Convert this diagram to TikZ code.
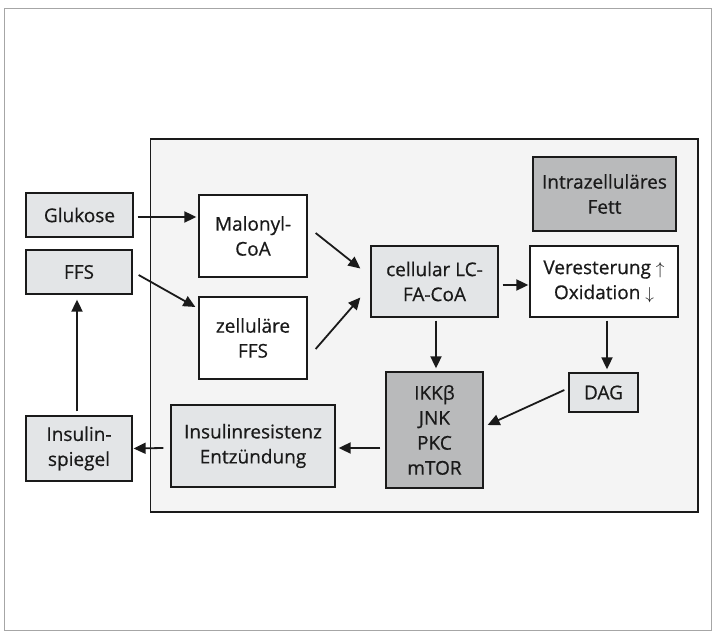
\documentclass[tikz,border=0pt]{standalone}
\usepackage{fontspec}
\setmainfont{Open Sans}
\newfontfamily\boxfont{Open Sans}[FakeBold=0.6]
\usetikzlibrary{arrows.meta}
\definecolor{lightbox}{HTML}{E3E5E7}
\definecolor{darkbox}{HTML}{B9BABB}
\definecolor{panel}{HTML}{F4F4F4}
\definecolor{ink}{HTML}{1A1A1A}
\tikzset{
  box/.style={draw=ink, line width=1.3pt, text=ink, align=center, inner sep=0pt,
    font=\boxfont\fontsize{19}{25}\selectfont},
  lbox/.style={box, fill=lightbox},
  dbox/.style={box, fill=darkbox},
  wbox/.style={box, fill=white},
  arr/.style={draw=ink, line width=1.8pt, -{Triangle[length=12pt,width=11pt]}}
}
\begin{document}
\begin{tikzpicture}[x=1pt,y=-1pt]
\useasboundingbox (0,0) rectangle (713,636);
\draw[draw=black!35, line width=0.8pt] (4.5,8) rectangle (711,630);
\draw[draw=ink, fill=panel, line width=1.2pt] (150.5,139) rectangle (698,512);

\node[lbox, minimum width=107pt, minimum height=44pt] (glu) at (79.5,215) {Glukose};
\node[lbox, minimum width=106pt, minimum height=44pt] (ffs) at (79,272) {FFS};
\node[lbox, minimum width=106pt, minimum height=65pt] (ins) at (79,448.5) {Insulin-\\spiegel};
\node[wbox, minimum width=108pt, minimum height=82pt] (mal) at (253,236) {Malonyl-\\CoA};
\node[wbox, minimum width=108pt, minimum height=82pt] (zff) at (253,338) {zelluläre\\FFS};
\node[lbox, minimum width=127pt, minimum height=71pt] (cell) at (434.5,281.5) {cellular LC-\\FA-CoA};
\node[wbox, minimum width=148pt, minimum height=71pt] (ver) at (604,281.5) {Veresterung $\uparrow$\\Oxidation $\downarrow$};
\node[dbox, minimum width=143pt, minimum height=74pt] (fett) at (604.5,194) {Intrazelluläres\\Fett};
\node[dbox, minimum width=97pt, minimum height=116pt] (ikk) at (434.5,430) {IKKβ\\JNK\\PKC\\mTOR};
\node[lbox, minimum width=69pt, minimum height=39pt] (dag) at (603.5,392.5) {DAG};
\node[lbox, minimum width=164pt, minimum height=82pt] (res) at (253,446) {Insulinresistenz\\Entzündung};

\draw[arr] ([xshift=4pt,yshift=-2pt]glu.east) -- ([xshift=-2pt,yshift=19pt]mal.west);
\draw[arr] ([xshift=6pt,yshift=-3pt]ffs.east) -- ([xshift=-3pt,yshift=31pt]zff.west);
\draw[arr] ([xshift=8pt,yshift=3pt]mal.east) -- ([xshift=-10pt,yshift=13pt]cell.west);
\draw[arr] ([xshift=8pt,yshift=-11pt]zff.east) -- ([xshift=-10pt,yshift=-16pt]cell.west);
\draw[arr] ([xshift=4pt,yshift=-3.5pt]cell.east) -- ([xshift=-1pt,yshift=-3.5pt]ver.west);
\draw[arr] ([xshift=1.5pt,yshift=-3pt]cell.south) -- ([xshift=1.5pt,yshift=3pt]ikk.north);
\draw[arr] ([xshift=3pt,yshift=-3pt]ver.south) -- ([xshift=3.5pt,yshift=3pt]dag.north);
\draw[arr] ([xshift=-4pt,yshift=2.5pt]dag.west) -- ([xshift=4pt,yshift=5pt]ikk.east);
\draw[arr] ([xshift=-5pt,yshift=-18pt]ikk.west) -- ([xshift=3pt,yshift=-2pt]res.east);
\draw[arr] ([xshift=-7pt,yshift=-2pt]res.west) -- ([xshift=1pt]ins.east);
\draw[arr] ([xshift=-2pt,yshift=4pt]ins.north) -- ([xshift=-2pt,yshift=-5pt]ffs.south);
\end{tikzpicture}
\end{document}
